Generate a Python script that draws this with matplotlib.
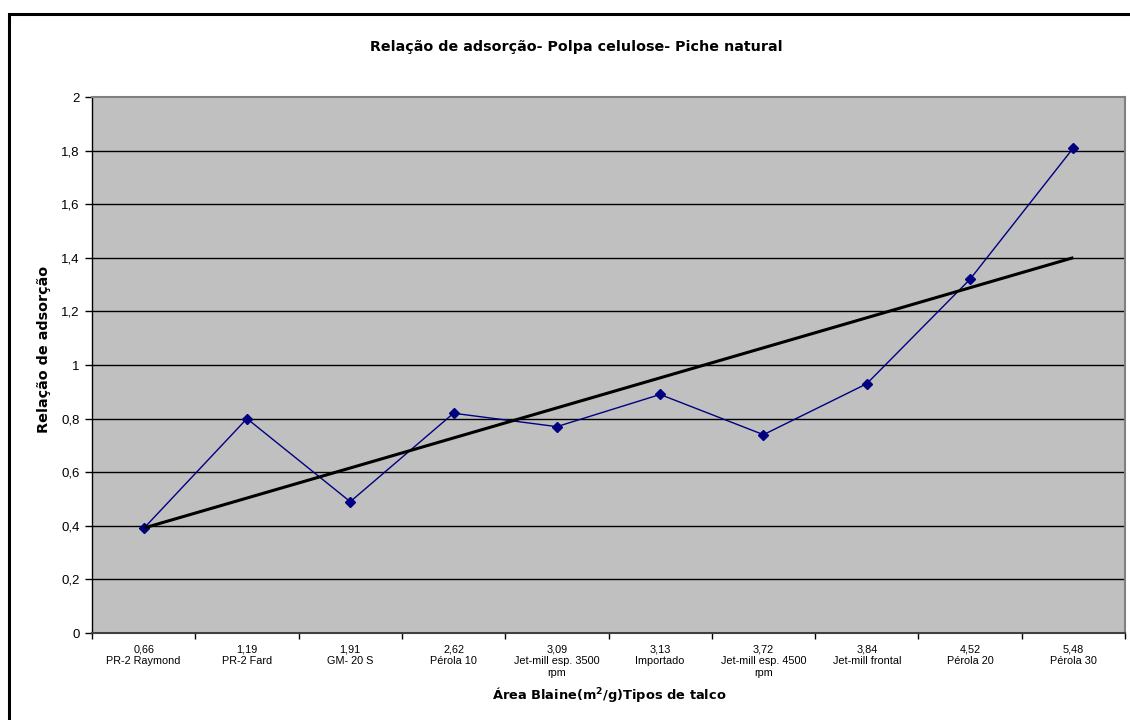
import numpy as np
import matplotlib
matplotlib.use("Agg")
import matplotlib.pyplot as plt
from matplotlib.patches import Rectangle

# Blaine area (m2/g) and talc type for each sample
blaine_area = ["0,66", "1,19", "1,91", "2,62", "3,09", "3,13", "3,72", "3,84", "4,52", "5,48"]
talc_types = ["PR-2 Raymond", "PR-2 Fard", "GM- 20 S", "Pérola 10",
              "Jet-mill esp. 3500\nrpm", "Importado", "Jet-mill esp. 4500\nrpm",
              "Jet-mill frontal", "Pérola 20", "Pérola 30"]
adsorption_ratio = [0.39, 0.80, 0.49, 0.82, 0.77, 0.89, 0.74, 0.93, 1.32, 1.81]

y_ticks = [0, 0.2, 0.4, 0.6, 0.8, 1.0, 1.2, 1.4, 1.6, 1.8, 2.0]
y_tick_labels = ["0", "0,2", "0,4", "0,6", "0,8", "1", "1,2", "1,4", "1,6", "1,8", "2"]

plt.rcParams["font.family"] = ["Liberation Sans", "DejaVu Sans"]
bold_family = ["DejaVu Sans"]

W, H = 1130, 720
fig = plt.figure(figsize=(W / 100, H / 100), dpi=100)

# chart frame (only left and top edges fall inside the canvas)
fig.add_artist(Rectangle((9 / W, -0.05), 1.2, (H - 14) / H + 0.05,
                         transform=fig.transFigure, fill=False,
                         edgecolor="black", linewidth=2.2, zorder=0))

left, right, top, bottom = 92, 1125, 97, 633
ax = fig.add_axes([left / W, 1 - bottom / H, (right - left) / W, (bottom - top) / H])
ax.set_facecolor("#C0C0C0")

x = np.arange(len(adsorption_ratio))

# horizontal gridlines
for yv in y_ticks[1:-1]:
    ax.axhline(yv, color="black", linewidth=1.0, zorder=1)

# data series
ax.plot(x, adsorption_ratio, color="#000080", linewidth=1.0, marker="D",
        markersize=5, markerfacecolor="#000080", markeredgecolor="#000080", zorder=3)

# linear trend line
coef = np.polyfit(x + 1, adsorption_ratio, 1)
trend = np.polyval(coef, x + 1)
ax.plot(x, trend, color="black", linewidth=2.2, zorder=4, solid_capstyle="butt")

ax.set_xlim(-0.5, len(x) - 0.5)
ax.set_ylim(0, 2)

ax.set_yticks(y_ticks)
ax.set_yticklabels(y_tick_labels, fontsize=9.5)
ax.tick_params(axis="y", direction="out", length=5, width=1, pad=4, color="black")

# category boundaries as major ticks, labels at category centres
ax.set_xticks(np.arange(-0.5, len(x) + 0.5, 1.0))
ax.set_xticklabels([])
ax.set_xticks(x, minor=True)
ax.set_xticklabels([f"{a}\n{t}" for a, t in zip(blaine_area, talc_types)],
                   minor=True, fontsize=7.8, linespacing=1.25)
ax.tick_params(axis="x", which="major", direction="out", length=4, width=1, color="black")
ax.tick_params(axis="x", which="minor", length=0, pad=8)
for lbl in ax.get_xticklabels(minor=True):
    lbl.set_verticalalignment("top")

for side in ("top", "right"):
    ax.spines[side].set_color("#808080")
    ax.spines[side].set_linewidth(1.5)
ax.spines["left"].set_color("black")
ax.spines["left"].set_linewidth(1.0)
ax.spines["bottom"].set_color("#404040")
ax.spines["bottom"].set_linewidth(1.5)

fig.text(576 / W, 1 - 47 / H,
         "Relação de adsorção- Polpa celulose- Piche natural",
         ha="center", va="center", fontsize=10.3, fontweight="bold", family=bold_family)
fig.text(609 / W, 1 - 695 / H,
         "Área Blaine(m$^\\mathregular{2}$/g)Tipos de talco",
         ha="center", va="center", fontsize=9.4, fontweight="bold", family=bold_family)
fig.text(44 / W, 1 - 349 / H, "Relação de adsorção", rotation=90,
         ha="center", va="center", fontsize=10.4, fontweight="bold", family=bold_family)

fig.savefig("out.png", dpi=100)
